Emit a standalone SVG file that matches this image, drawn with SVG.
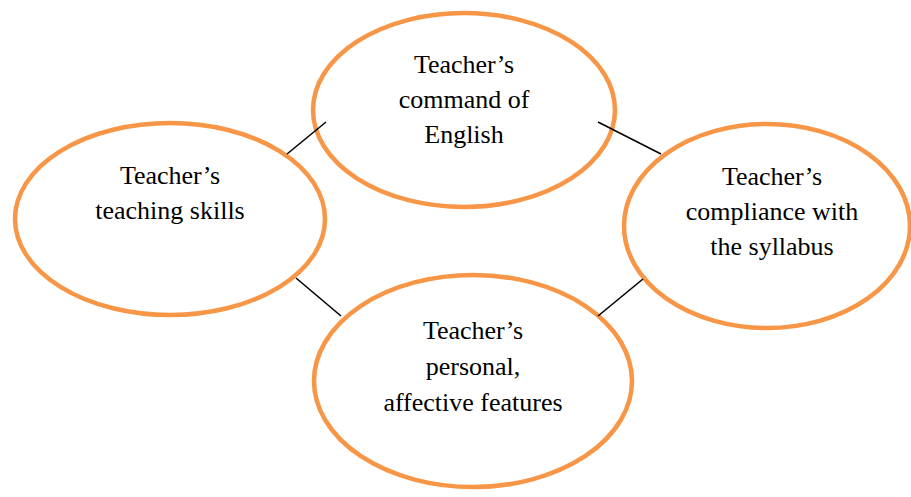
<svg xmlns="http://www.w3.org/2000/svg" width="911" height="497" viewBox="0 0 911 497">
<style>
.node{fill:#fff;stroke:#F79646;stroke-width:4.5}
.lbl{font-family:"Liberation Serif","Times New Roman",serif;font-size:26px;fill:#000;text-anchor:middle}
.con{stroke:#000;stroke-width:1.6}
</style>
<rect width="911" height="497" fill="#fff"/>
<g id="command">
<ellipse class="node" cx="464" cy="110" rx="151" ry="97"/>
<text class="lbl" x="464" y="73">Teacher’s</text>
<text class="lbl" x="464" y="108">command of</text>
<text class="lbl" x="464" y="143">English</text>
</g>
<g id="skills">
<ellipse class="node" cx="170" cy="219" rx="155" ry="96"/>
<text class="lbl" x="170" y="184">Teacher’s</text>
<text class="lbl" x="170" y="219">teaching skills</text>
</g>
<g id="compliance">
<ellipse class="node" cx="767" cy="226" rx="143" ry="102"/>
<text class="lbl" x="772" y="185">Teacher’s</text>
<text class="lbl" x="772" y="220">compliance with</text>
<text class="lbl" x="772" y="255">the syllabus</text>
</g>
<g id="personal">
<ellipse class="node" cx="473" cy="381" rx="159" ry="106"/>
<text class="lbl" x="473" y="339">Teacher’s</text>
<text class="lbl" x="473" y="375">personal,</text>
<text class="lbl" x="473" y="411">affective features</text>
</g>
<g id="connectors">
<line class="con" x1="287" y1="154" x2="326" y2="122"/>
<line class="con" x1="598" y1="122" x2="661" y2="154"/>
<line class="con" x1="296" y1="278" x2="341" y2="316"/>
<line class="con" x1="643" y1="279" x2="598" y2="316"/>
</g>
</svg>
